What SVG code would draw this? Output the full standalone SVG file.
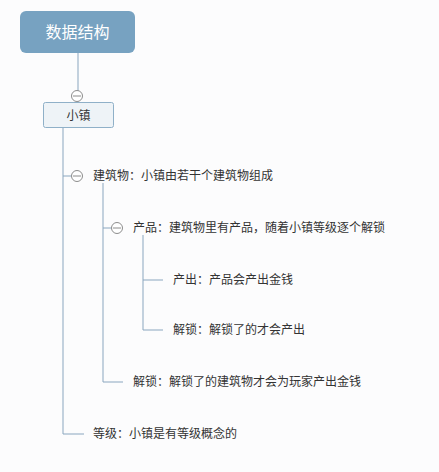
<svg xmlns="http://www.w3.org/2000/svg" width="439" height="472" viewBox="0 0 439 472">
<style>
.ln{fill:none;stroke:#8aa6bf;stroke-width:1}
.t{font-family:"Noto Sans CJK SC","Liberation Sans",sans-serif;font-size:12px;fill:#333}
.tg{fill:#fff;stroke:#8c8c8c;stroke-width:1}
</style>
<rect width="439" height="472" fill="#fcfcfd"/>
<g id="connectors">
<path class="ln" d="M78 53V102"/>
<path class="ln" d="M63 128V434H84"/>
<path class="ln" d="M63 176H71"/>
<path class="ln" d="M103 183V382H123"/>
<path class="ln" d="M103 228H111"/>
<path class="ln" d="M143 235V330H163"/>
<path class="ln" d="M143 280H163"/>
</g>
<g id="root">
<rect x="20" y="11" width="115" height="42" rx="6" fill="#77a2c1"/>
<text x="77.5" y="38" text-anchor="middle" font-family="'Noto Sans CJK SC',sans-serif" font-size="16" fill="#fff">数据结构</text>
</g>
<g id="toggle-root"><circle class="tg" cx="77" cy="96" r="5.5"/><path d="M73 96H81" stroke="#8c8c8c"/></g>
<g id="town">
<rect x="43.5" y="102.5" width="70" height="25" rx="2" fill="#eef3f7" stroke="#8fb0c8"/>
<text x="78.5" y="120" text-anchor="middle" class="t" font-size="13">小镇</text>
</g>
<g id="building">
<circle class="tg" cx="77" cy="176" r="5.5"/><path d="M73 176H81" stroke="#8c8c8c"/>
<text x="93" y="180" class="t">建筑物：小镇由若干个建筑物组成</text>
</g>
<g id="product">
<circle class="tg" cx="117" cy="228" r="5.5"/><path d="M113 228H121" stroke="#8c8c8c"/>
<text x="133" y="232" class="t">产品：建筑物里有产品，随着小镇等级逐个解锁</text>
</g>
<g id="output"><text x="173" y="284" class="t">产出：产品会产出金钱</text></g>
<g id="unlock-product"><text x="173" y="334" class="t">解锁：解锁了的才会产出</text></g>
<g id="unlock-building"><text x="133" y="386" class="t">解锁：解锁了的建筑物才会为玩家产出金钱</text></g>
<g id="level"><text x="93" y="438" class="t">等级：小镇是有等级概念的</text></g>
</svg>
